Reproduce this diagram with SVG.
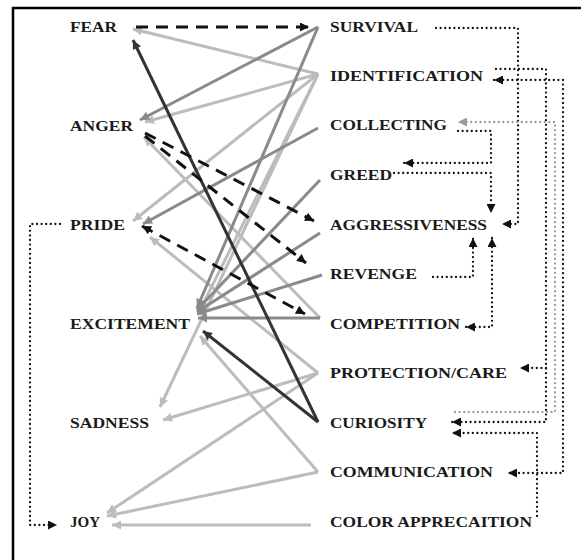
<svg xmlns="http://www.w3.org/2000/svg" width="581" height="560" viewBox="0 0 581 560">
<style>
text{font-family:"Liberation Serif","Times New Roman",serif;font-weight:bold;font-size:15px;fill:#1a1a1a}
.lt{stroke:#bcbcbc;stroke-width:3;fill:none}
.md{stroke:#8a8a8a;stroke-width:3;fill:none}
.dk{stroke:#333;stroke-width:3;fill:none}
.ds{stroke:#111;stroke-width:3;fill:none;stroke-dasharray:12 8}
.dt{stroke:#111;stroke-width:2.3;fill:none;stroke-dasharray:0 4.6;stroke-linecap:round}
.dg{stroke:#999;stroke-width:2.3;fill:none;stroke-dasharray:0 4.6;stroke-linecap:round}
</style>
<defs>
<marker id="al" viewBox="0 0 10 10" refX="10" refY="5" markerWidth="11" markerHeight="9" markerUnits="userSpaceOnUse" orient="auto-start-reverse"><path d="M0,0L10,5L0,10z" fill="#bcbcbc"/></marker>
<marker id="am" viewBox="0 0 10 10" refX="10" refY="5" markerWidth="11" markerHeight="9" markerUnits="userSpaceOnUse" orient="auto-start-reverse"><path d="M0,0L10,5L0,10z" fill="#8a8a8a"/></marker>
<marker id="ad" viewBox="0 0 10 10" refX="10" refY="5" markerWidth="11" markerHeight="9" markerUnits="userSpaceOnUse" orient="auto-start-reverse"><path d="M0,0L10,5L0,10z" fill="#333"/></marker>
<marker id="ab" viewBox="0 0 10 10" refX="10" refY="5" markerWidth="10" markerHeight="9" markerUnits="userSpaceOnUse" orient="auto-start-reverse"><path d="M0,0L10,5L0,10z" fill="#111"/></marker>
<marker id="ag" viewBox="0 0 10 10" refX="10" refY="5" markerWidth="10" markerHeight="9" markerUnits="userSpaceOnUse" orient="auto-start-reverse"><path d="M0,0L10,5L0,10z" fill="#999"/></marker>
</defs>
<rect width="581" height="560" fill="#fff"/>
<path d="M13,560V8H581" fill="none" stroke="#000" stroke-width="2.5"/>
<g id="connectors">
<line class="lt" x1="318" y1="74" x2="133" y2="29" marker-end="url(#al)"/>
<line class="lt" x1="318" y1="74" x2="145" y2="122" marker-end="url(#al)"/>
<line class="lt" x1="318" y1="74" x2="133" y2="221" marker-end="url(#al)"/>
<line class="lt" x1="318" y1="74" x2="200" y2="310" marker-end="url(#al)"/>
<line class="lt" x1="318" y1="74" x2="160" y2="407" marker-end="url(#al)"/>
<line class="lt" x1="318" y1="373" x2="150" y2="237" marker-end="url(#al)"/>
<line class="lt" x1="318" y1="373" x2="163" y2="420" marker-end="url(#al)"/>
<line class="lt" x1="318" y1="373" x2="107" y2="513" marker-end="url(#al)"/>
<line class="lt" x1="318" y1="472" x2="200" y2="336" marker-end="url(#al)"/>
<line class="lt" x1="318" y1="472" x2="107" y2="516" marker-end="url(#al)"/>
<line class="lt" x1="311" y1="525" x2="112" y2="525" marker-end="url(#al)"/>
<line class="lt" x1="320" y1="318" x2="144" y2="137" marker-end="url(#al)"/>
<line class="md" x1="318" y1="27" x2="140" y2="120" marker-end="url(#am)"/>
<line class="md" x1="318" y1="27" x2="197" y2="308" marker-end="url(#am)"/>
<line class="md" x1="318" y1="128" x2="143" y2="224" marker-end="url(#am)"/>
<line class="md" x1="320" y1="180" x2="197" y2="310" marker-end="url(#am)"/>
<line class="md" x1="320" y1="233" x2="197" y2="312" marker-end="url(#am)"/>
<line class="md" x1="322" y1="275" x2="197" y2="314" marker-end="url(#am)"/>
<line class="md" x1="320" y1="318" x2="198" y2="318" marker-end="url(#am)"/>
<line class="dk" x1="318" y1="422" x2="133" y2="40" marker-end="url(#ad)"/>
<line class="dk" x1="318" y1="422" x2="203" y2="331" marker-end="url(#ad)"/>
<line class="ds" x1="136" y1="27" x2="309" y2="27" marker-end="url(#ab)"/>
<line class="ds" x1="145" y1="133" x2="314" y2="221" marker-end="url(#ab)"/>
<line class="ds" x1="145" y1="136" x2="306" y2="263" marker-end="url(#ab)"/>
<line class="ds" x1="142" y1="226" x2="305" y2="314" marker-start="url(#ab)" marker-end="url(#ab)"/>
<path class="dt" d="M436,28H518V224H502" marker-end="url(#ab)"/>
<path class="dt" d="M494,80H563V473H508" marker-start="url(#ab)" marker-end="url(#ab)"/>
<path class="dt" d="M496,69H546V422H452" marker-end="url(#ab)"/>
<path class="dt" d="M546,368H520" marker-end="url(#ab)"/>
<path class="dt" d="M458,131H491V163H404" marker-end="url(#ab)"/>
<path class="dt" d="M394,173H491V213" marker-end="url(#ab)"/>
<path class="dt" d="M433,277H473V238" marker-end="url(#ab)"/>
<path class="dt" d="M492,238V327H466" marker-start="url(#ab)" marker-end="url(#ab)"/>
<path class="dt" d="M537,516V433H452" marker-end="url(#ab)"/>
<path class="dt" d="M60,224H30V525H57" marker-end="url(#ab)"/>
<path class="dg" d="M455,412H555V122H458" marker-end="url(#ag)"/>
</g>
<g id="fear"><text x="70" y="32" textLength="47" lengthAdjust="spacingAndGlyphs">FEAR</text></g>
<g id="anger"><text x="70" y="131" textLength="63" lengthAdjust="spacingAndGlyphs">ANGER</text></g>
<g id="pride"><text x="70" y="230" textLength="55" lengthAdjust="spacingAndGlyphs">PRIDE</text></g>
<g id="excitement"><text x="70" y="329" textLength="120" lengthAdjust="spacingAndGlyphs">EXCITEMENT</text></g>
<g id="sadness"><text x="70" y="428" textLength="79" lengthAdjust="spacingAndGlyphs">SADNESS</text></g>
<g id="joy"><text x="70" y="527" textLength="30" lengthAdjust="spacingAndGlyphs">JOY</text></g>
<g id="survival"><text x="330" y="32" textLength="88" lengthAdjust="spacingAndGlyphs">SURVIVAL</text></g>
<g id="identification"><text x="330" y="81" textLength="153" lengthAdjust="spacingAndGlyphs">IDENTIFICATION</text></g>
<g id="collecting"><text x="330" y="130" textLength="117" lengthAdjust="spacingAndGlyphs">COLLECTING</text></g>
<g id="greed"><text x="330" y="180" textLength="62" lengthAdjust="spacingAndGlyphs">GREED</text></g>
<g id="aggressiveness"><text x="330" y="230" textLength="157" lengthAdjust="spacingAndGlyphs">AGGRESSIVENESS</text></g>
<g id="revenge"><text x="330" y="279" textLength="87" lengthAdjust="spacingAndGlyphs">REVENGE</text></g>
<g id="competition"><text x="330" y="329" textLength="130" lengthAdjust="spacingAndGlyphs">COMPETITION</text></g>
<g id="protection"><text x="330" y="378" textLength="177" lengthAdjust="spacingAndGlyphs">PROTECTION/CARE</text></g>
<g id="curiosity"><text x="330" y="428" textLength="97" lengthAdjust="spacingAndGlyphs">CURIOSITY</text></g>
<g id="communication"><text x="330" y="477" textLength="163" lengthAdjust="spacingAndGlyphs">COMMUNICATION</text></g>
<g id="color"><text x="330" y="527" textLength="202" lengthAdjust="spacingAndGlyphs">COLOR APPRECAITION</text></g>
</svg>
